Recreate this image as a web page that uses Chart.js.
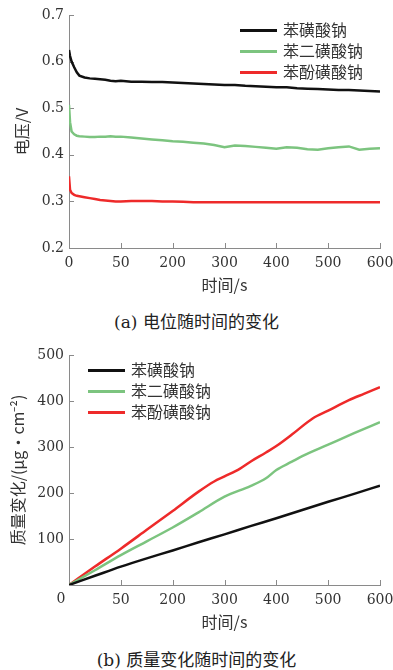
<!DOCTYPE html>
<html><head><meta charset="utf-8">
<script src="https://cdn.jsdelivr.net/npm/chart.js@4"></script>
<style>
body{margin:0;background:#fff;width:393px;height:670px;position:relative;overflow:hidden;font-family:"DejaVu Serif","Noto Sans CJK SC",serif;color:#333}
.c{position:absolute;left:0;width:393px;height:300px}
.cap{position:absolute;left:0;width:393px;text-align:center;font-size:17px;line-height:22px;font-family:"DejaVu Serif","Noto Sans CJK SC",serif;color:#222}
.leg{position:absolute;font-family:"Noto Sans CJK SC",sans-serif;font-size:16px;line-height:21px;color:#333}
.leg div{height:21px;white-space:nowrap}
.leg i{display:inline-block;width:37px;height:3px;vertical-align:middle;margin-right:6px;position:relative;top:-1px}
</style></head><body>
<div class="c" style="top:0"><canvas id="ca"></canvas></div>
<div class="cap" style="top:311px">(a) 电位随时间的变化</div>
<div class="c" style="top:335px"><canvas id="cb"></canvas></div>
<div class="cap" style="top:649px">(b) 质量变化随时间的变化</div>
<div class="leg" id="legA" style="left:240px;top:19px"></div>
<div class="leg" id="legB" style="left:88px;top:359px"></div>
<script>
// ---------- data ----------
const seriesNames = ['苯磺酸钠', '苯二磺酸钠', '苯酚磺酸钠'];
const seriesColors = ['#111111', '#7cc47f', '#ee2a2a'];
const xTickLabels = ['0', '50', '200', '300', '400', '500', '600'];
const yTickLabelsA = ['0.2', '0.3', '0.4', '0.5', '0.6', '0.7'];
const yTickLabelsB = ['', '100', '200', '300', '400', '500'];

// (a) voltage vs time
const timeA = [0,2,5,10,15,20,30,40,50,60,70,80,90,100,120,140,160,180,200,220,240,260,280,300,320,340,360,380,400,420,440,460,480,500,520,540,560,580,600];
const voltBenzene = [0.625,0.612,0.600,0.588,0.577,0.570,0.566,0.564,0.563,0.562,0.561,0.559,0.558,0.559,0.557,0.557,0.556,0.556,0.555,0.554,0.553,0.552,0.551,0.550,0.550,0.548,0.547,0.546,0.545,0.545,0.543,0.542,0.541,0.540,0.539,0.539,0.538,0.537,0.536];
const voltDisulfo = [0.507,0.470,0.450,0.444,0.441,0.440,0.439,0.438,0.438,0.439,0.439,0.440,0.439,0.439,0.437,0.435,0.433,0.431,0.429,0.428,0.426,0.424,0.421,0.416,0.420,0.419,0.417,0.415,0.413,0.416,0.415,0.412,0.411,0.414,0.416,0.418,0.411,0.413,0.414];
const voltPhenol = [0.354,0.325,0.318,0.314,0.312,0.311,0.309,0.307,0.305,0.303,0.302,0.301,0.300,0.300,0.301,0.301,0.301,0.300,0.300,0.299,0.298,0.298,0.298,0.298,0.298,0.298,0.298,0.298,0.298,0.298,0.298,0.298,0.298,0.298,0.298,0.298,0.298,0.298,0.298];

// (b) mass change vs time
const timeB1 = [0,50,100,150,200,250,300,350,400,450,500,550,600];
const massBenzene = [0,20,40,58,75,93,110,128,145,163,181,198,216];
const timeB2 = [0,50,100,150,200,250,300,350,380,400,430,450,500,550,600];
const massDisulfo = [0,32,65,95,125,158,192,215,232,250,268,280,305,330,354];
const timeB3 = [0,50,100,150,200,250,280,300,330,350,380,400,430,470,500,540,570,600];
const massPhenol = [0,40,79,120,161,203,225,236,253,268,288,302,327,362,379,402,416,430];

// ---------- helpers ----------
const pts = (xs, ys) => xs.map((x, i) => ({x, y: ys[i]}));
const numFont = {family: '"DejaVu Serif", serif', size: 14};
const cjkFont = {family: '"Noto Sans CJK SC", sans-serif', size: 16};
const axisColor = '#8a8a8a';

const innerTicks = {
  id: 'innerTicks',
  beforeDatasetsDraw(chart) {
    const {ctx, chartArea: a, scales: {x, y}} = chart;
    ctx.save();
    ctx.strokeStyle = axisColor; ctx.lineWidth = 1;
    x.ticks.forEach(t => {
      const px = Math.round(x.getPixelForValue(t.value)) + 0.5;
      ctx.beginPath(); ctx.moveTo(px, a.bottom); ctx.lineTo(px, a.bottom - 5); ctx.stroke();
    });
    y.ticks.forEach(t => {
      const py = Math.round(y.getPixelForValue(t.value)) + 0.5;
      ctx.beginPath(); ctx.moveTo(a.left, py); ctx.lineTo(a.left + 5, py); ctx.stroke();
    });
    ctx.restore();
  }
};
const originLabel = {
  id: 'originLabel',
  afterDraw(chart) {
    if (!chart.options.plugins.originLabel || !chart.options.plugins.originLabel.show) return;
    const {ctx, chartArea: a} = chart;
    ctx.save();
    ctx.font = '14px "DejaVu Serif", serif';
    ctx.fillStyle = '#333'; ctx.textAlign = 'center'; ctx.textBaseline = 'middle';
    ctx.fillText('0', a.left - 8, a.bottom + 14);
    ctx.restore();
  }
};

function makeChart(id, datasets, cfg) {
  return new Chart(document.getElementById(id), {
    type: 'line',
    data: {datasets},
    plugins: [innerTicks, originLabel],
    options: {
      responsive: false, animation: false,
      layout: {padding: cfg.padding},
      plugins: {legend: {display: false}, tooltip: {enabled: false}, originLabel: {show: cfg.origin}},
      elements: {point: {radius: 0}},
      scales: {
        x: {
          type: 'linear', min: 0, max: 600,
          ticks: {stepSize: 100, font: numFont, color: '#333', padding: 7, maxRotation: 0,
            callback: (v) => (cfg.origin && v === 0) ? '' : xTickLabels[Math.round(v / 100)]},
          grid: {drawOnChartArea: false, drawTicks: false},
          border: {color: axisColor, width: 1},
          title: {display: true, text: '时间/s', font: cjkFont, color: '#333', padding: 0},
          afterFit: (s) => { s.height = cfg.xh; s.paddingLeft = 0; s.paddingRight = 0; }
        },
        y: {
          type: 'linear', min: cfg.ymin, max: cfg.ymax,
          ticks: {stepSize: cfg.ystep, font: numFont, color: '#333', padding: 5,
            callback: (v) => cfg.ylabels[Math.round((v - cfg.ymin) / cfg.ystep)]},
          grid: {drawOnChartArea: false, drawTicks: false},
          border: {color: axisColor, width: 1},
          title: {display: true, text: cfg.ytitle, font: cjkFont, color: '#333', padding: 0},
          afterFit: (s) => { s.width = cfg.yw; s.paddingTop = 0; s.paddingBottom = 0; }
        }
      }
    }
  });
}

function setCanvas(id, w, h) { const c = document.getElementById(id); c.width = w; c.height = h; c.style.width = w + 'px'; c.style.height = h + 'px'; }
setCanvas('ca', 393, 300);
setCanvas('cb', 393, 300);

makeChart('ca', [
  {label: seriesNames[0], data: pts(timeA, voltBenzene), borderColor: seriesColors[0], borderWidth: 2.5, tension: 0},
  {label: seriesNames[1], data: pts(timeA, voltDisulfo), borderColor: seriesColors[1], borderWidth: 2.5, tension: 0},
  {label: seriesNames[2], data: pts(timeA, voltPhenol), borderColor: seriesColors[2], borderWidth: 2.5, tension: 0}
], {padding: {left: 12, right: 13, top: 15, bottom: 5}, xh: 47, yw: 57,
    ymin: 0.2, ymax: 0.7, ystep: 0.1, ylabels: yTickLabelsA, ytitle: '电压/V', origin: false});

makeChart('cb', [
  {label: seriesNames[0], data: pts(timeB1, massBenzene), borderColor: seriesColors[0], borderWidth: 2.5, tension: 0.3, cubicInterpolationMode: 'monotone'},
  {label: seriesNames[1], data: pts(timeB2, massDisulfo), borderColor: seriesColors[1], borderWidth: 2.5, tension: 0.3, cubicInterpolationMode: 'monotone'},
  {label: seriesNames[2], data: pts(timeB3, massPhenol), borderColor: seriesColors[2], borderWidth: 2.5, tension: 0.3, cubicInterpolationMode: 'monotone'}
], {padding: {left: 8, right: 13, top: 20, bottom: 3}, xh: 47, yw: 61,
    ymin: 0, ymax: 500, ystep: 100, ylabels: yTickLabelsB, ytitle: '质量变化/(μg·cm⁻²)', origin: true});

function buildLegend(id) {
  const el = document.getElementById(id);
  seriesNames.forEach((n, i) => {
    const d = document.createElement('div');
    const sw = document.createElement('i'); sw.style.background = seriesColors[i];
    d.appendChild(sw); d.appendChild(document.createTextNode(n));
    el.appendChild(d);
  });
}
buildLegend('legA'); buildLegend('legB');
</script>
</body></html>
